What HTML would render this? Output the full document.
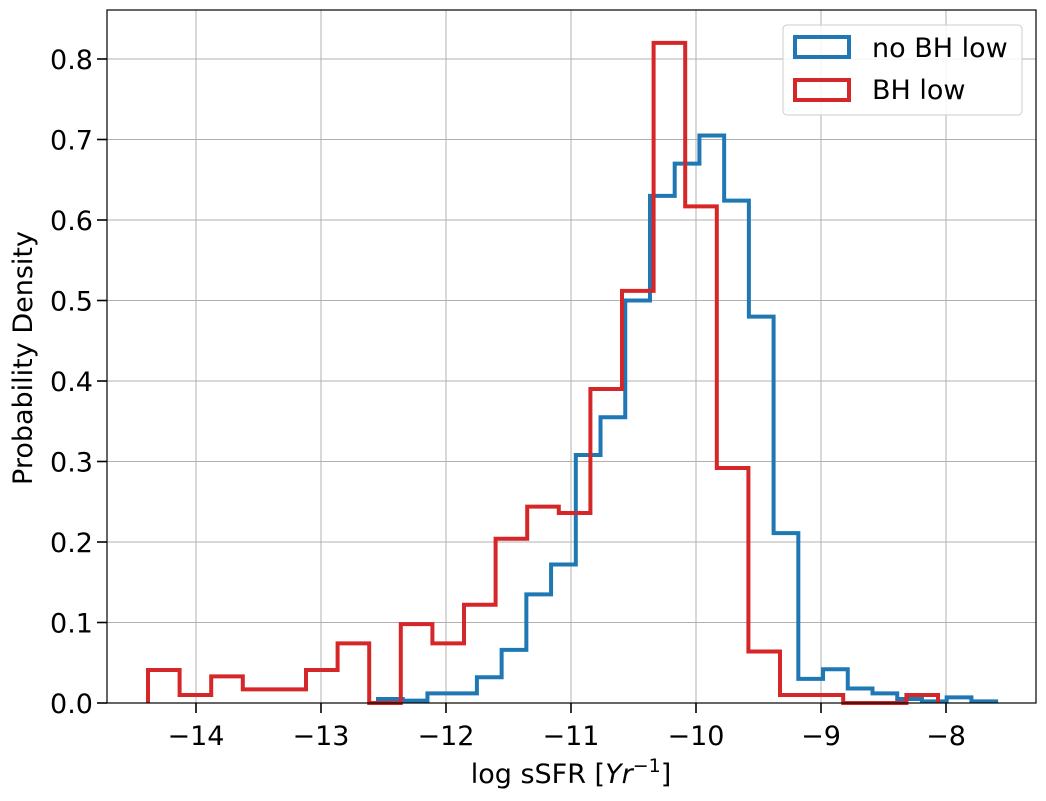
<!DOCTYPE html>
<html><head><meta charset="utf-8"><style>
body{margin:0;background:#fff;}
svg{display:block;font-family:"DejaVu Sans","Liberation Sans",sans-serif;}
</style></head><body>
<svg id="chart" width="1046" height="801"></svg>
<script>
const blueStart = -12.544, blueWidth = 0.1978;
const blueValues = [0.005,0.003,0.012,0.012,0.032,0.066,0.135,0.172,0.308,0.355,0.5,0.63,0.67,0.705,0.624,0.48,0.211,0.03,0.042,0.018,0.012,0.005,0.002,0.007,0.002];
const redStart = -14.384, redWidth = 0.2528;
const redValues = [0.041,0.01,0.033,0.017,0.017,0.041,0.074,0,0.098,0.074,0.122,0.204,0.244,0.236,0.39,0.512,0.82,0.617,0.292,0.064,0.01,0.01,0,0,0.01];
const xTicks = [-14,-13,-12,-11,-10,-9,-8];
const yTicks = [0,0.1,0.2,0.3,0.4,0.5,0.6,0.7,0.8];
const xTickLabels = ["−14","−13","−12","−11","−10","−9","−8"];
const yTickLabels = ["0.0","0.1","0.2","0.3","0.4","0.5","0.6","0.7","0.8"];

const L=107,R=1036,T=10,B=703;
const sx=v=>696+(v+10)*125;
const sy=v=>703-v*805;
const svg=document.getElementById('chart');
const NS='http://www.w3.org/2000/svg';
function mk(tag,attrs,parent){const e=document.createElementNS(NS,tag);for(const k in attrs)e.setAttribute(k,attrs[k]);(parent||svg).appendChild(e);return e;}

const grid=mk('g',{});


xTicks.forEach((t,i)=>{
  mk('line',{x1:sx(t),x2:sx(t),y1:T,y2:B,stroke:'#b0b0b0','stroke-width':1},grid);
  mk('line',{x1:sx(t),x2:sx(t),y1:B,y2:B+10,stroke:'#000','stroke-width':1.6});
  const tx=mk('text',{x:sx(t),y:B+42,'text-anchor':'middle','font-size':27,fill:'#000'});
  tx.textContent=xTickLabels[i];
  
  
});
yTicks.forEach((t,i)=>{
  mk('line',{x1:L,x2:R,y1:sy(t),y2:sy(t),stroke:'#b0b0b0','stroke-width':1},grid);
  mk('line',{x1:L-10,x2:L,y1:sy(t),y2:sy(t),stroke:'#000','stroke-width':1.6});
  const tx=mk('text',{x:L-14,y:sy(t)+10,'text-anchor':'end','font-size':27,fill:'#000'});
  tx.textContent=yTickLabels[i];
  
  
});

function stepPath(start,w,vals){
  let d=`M${sx(start)},${sy(0)}`;
  vals.forEach((v,i)=>{d+=` L${sx(start+i*w)},${sy(v)} L${sx(start+(i+1)*w)},${sy(v)}`;});
  d+=` L${sx(start+vals.length*w)},${sy(0)}`;
  return d;
}
const bp=mk('path',{d:stepPath(blueStart,blueWidth,blueValues),fill:'none',stroke:'#1f77b4','stroke-width':4,'stroke-linejoin':'miter'});


const rp=mk('path',{d:stepPath(redStart,redWidth,redValues),fill:'none',stroke:'#d62728','stroke-width':4,'stroke-linejoin':'miter'});



const frame=mk('rect',{x:L,y:T,width:R-L,height:B-T,fill:'none',stroke:'#000','stroke-width':1.2});



const xl=mk('text',{x:571,y:783,'text-anchor':'middle','font-size':27,fill:'#000'});
xl.innerHTML='log sSFR [<tspan font-style="italic">Yr</tspan><tspan dy="-11" font-size="19">−1</tspan><tspan dy="11">]</tspan>';


const yl=mk('text',{x:0,y:0,'text-anchor':'middle','font-size':27,fill:'#000',transform:'translate(32,358) rotate(-90)'});
yl.textContent='Probability Density';



const lg=mk('g',{});


mk('rect',{x:783,y:25,width:239,height:90,rx:4,fill:'#fff','fill-opacity':0.85,stroke:'#ccc','stroke-width':1},lg);
const e1=mk('g',{},lg);


mk('rect',{x:795,y:37,width:54,height:20,fill:'none',stroke:'#1f77b4','stroke-width':4},e1);
const t1=mk('text',{x:872,y:57,'font-size':27,fill:'#000'},e1);t1.textContent='no BH low';
const e2=mk('g',{},lg);


mk('rect',{x:795,y:80,width:54,height:20,fill:'none',stroke:'#d62728','stroke-width':4},e2);
const t2=mk('text',{x:872,y:99,'font-size':27,fill:'#000'},e2);t2.textContent='BH low';
</script>
</body></html>
